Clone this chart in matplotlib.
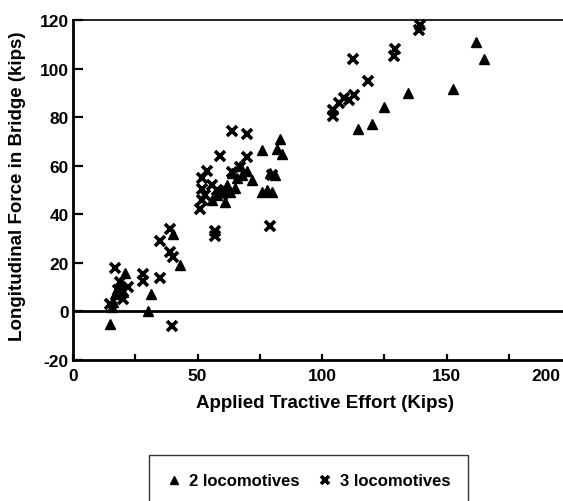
import matplotlib
matplotlib.use("Agg")
import matplotlib.pyplot as plt
from matplotlib.transforms import ScaledTranslation

# ---- data ----
loco2_x = [15, 15.5, 16, 17, 18, 20, 21, 19,
           30, 31.5, 43, 40,
           56, 58, 60, 61, 62, 63, 65, 66, 68, 70, 72, 64, 67,
           76, 78, 80, 79, 81, 76, 82, 83, 84,
           114.5, 120, 125, 134.5, 152.7, 162, 165]
loco2_y = [-5, 2, 4, 7, 10, 8, 16, 12,
           0, 7, 19, 32,
           46, 48, 50, 45, 52, 49, 51, 55, 56, 58, 54, 57, 60,
           49, 50, 49, 57, 56, 66.5, 67, 71, 65,
           75, 77, 84, 90, 91.6, 111, 104]

loco3_x = [15, 17, 18, 19, 20, 22,
           28, 28, 35, 35, 39, 39, 40, 39.6, 57, 57,
           51, 52, 52, 53, 52, 54, 56, 58, 59, 60, 64, 67, 70, 64, 70, 79, 80,
           104.5, 104.5, 107, 109, 111, 113, 112.5, 118.5, 129, 129.5, 139, 139.5]
loco3_y = [3, 17.7, 9, 12, 5, 10,
           15.6, 12.7, 13.6, 29, 34, 24.6, 22.6, -6, 33, 31,
           42, 46, 50.5, 48, 55, 58, 52, 50, 64, 48, 57.5, 59.6, 63.5, 74.4, 73, 35, 56,
           80.5, 83, 86, 88, 87, 89, 104, 95, 105, 108, 116, 118]

xticks = [0, 50, 100, 150, 200]
yticks = [-20, 0, 20, 40, 60, 80, 100, 120]
xlabel = "Applied Tractive Effort (Kips)"
ylabel = "Longitudinal Force in Bridge (kips)"
series_names = ["2 locomotives", "3 locomotives"]

# ---- figure ----
W, H = 563, 502
plt.rcParams['font.family'] = ['Liberation Sans', 'DejaVu Sans']
plt.rcParams['font.weight'] = 'bold'
plt.rcParams['axes.unicode_minus'] = False
fig = plt.figure(figsize=(W / 100, H / 100), dpi=100)

left_px, right_px, top_px, bot_px = 73, 571, 21, 361
ax = fig.add_axes([left_px / W, 1 - bot_px / H, (right_px - left_px) / W, (bot_px - top_px) / H])

ax.plot(loco2_x, loco2_y, linestyle='none', marker='^', ms=7, color='black',
        label=series_names[0], clip_on=False)
ax.plot(loco3_x, loco3_y, linestyle='none', marker='x', ms=7.5, mew=2.6, color='black',
        label=series_names[1], clip_on=False)

ax.axhline(0, color='black', lw=2.0, zorder=1)

ax.set_xlim(0, 200)
ax.set_ylim(-20, 120)
ax.set_xticks(xticks)
ax.set_xticks([25, 75, 125, 175], minor=True)
ax.set_yticks(yticks)

for s in ['left', 'bottom']:
    ax.spines[s].set_linewidth(2.0)
ax.spines['top'].set_linewidth(1.2)
ax.spines['right'].set_visible(False)

ax.tick_params(axis='y', which='major', direction='in', length=7, width=1.6,
               labelsize=12.5, pad=3)
ax.tick_params(axis='x', which='both', direction='in', length=4, width=1.6,
               labelsize=12.5, pad=6)

for lab in ax.get_xticklabels() + ax.get_yticklabels():
    lab.set_fontweight('bold')

# shift the clipped "200" label back into view like the reference
lbl200 = ax.get_xticklabels()[-1]
lbl200.set_transform(lbl200.get_transform() + ScaledTranslation(-0.25, 0, fig.dpi_scale_trans))

fig.text(325 / W, 1 - 404 / H, xlabel, ha='center', va='center',
         fontsize=13.5, fontweight='bold')
fig.text(18 / W, 1 - 186 / H, ylabel, ha='center', va='center', rotation=90,
         fontsize=13.5, fontweight='bold')

leg = fig.legend(loc='upper left', bbox_to_anchor=(149 / W, 1 - 456 / H),
                 ncol=2, frameon=True, fancybox=False, edgecolor='black',
                 prop={'weight': 'bold', 'size': 12}, handlelength=0.8,
                 handletextpad=0.5, columnspacing=1.1, borderpad=1.1,
                 borderaxespad=0, markerscale=0.75)
leg.get_frame().set_linewidth(1.0)

fig.savefig("out.png", dpi=100)
